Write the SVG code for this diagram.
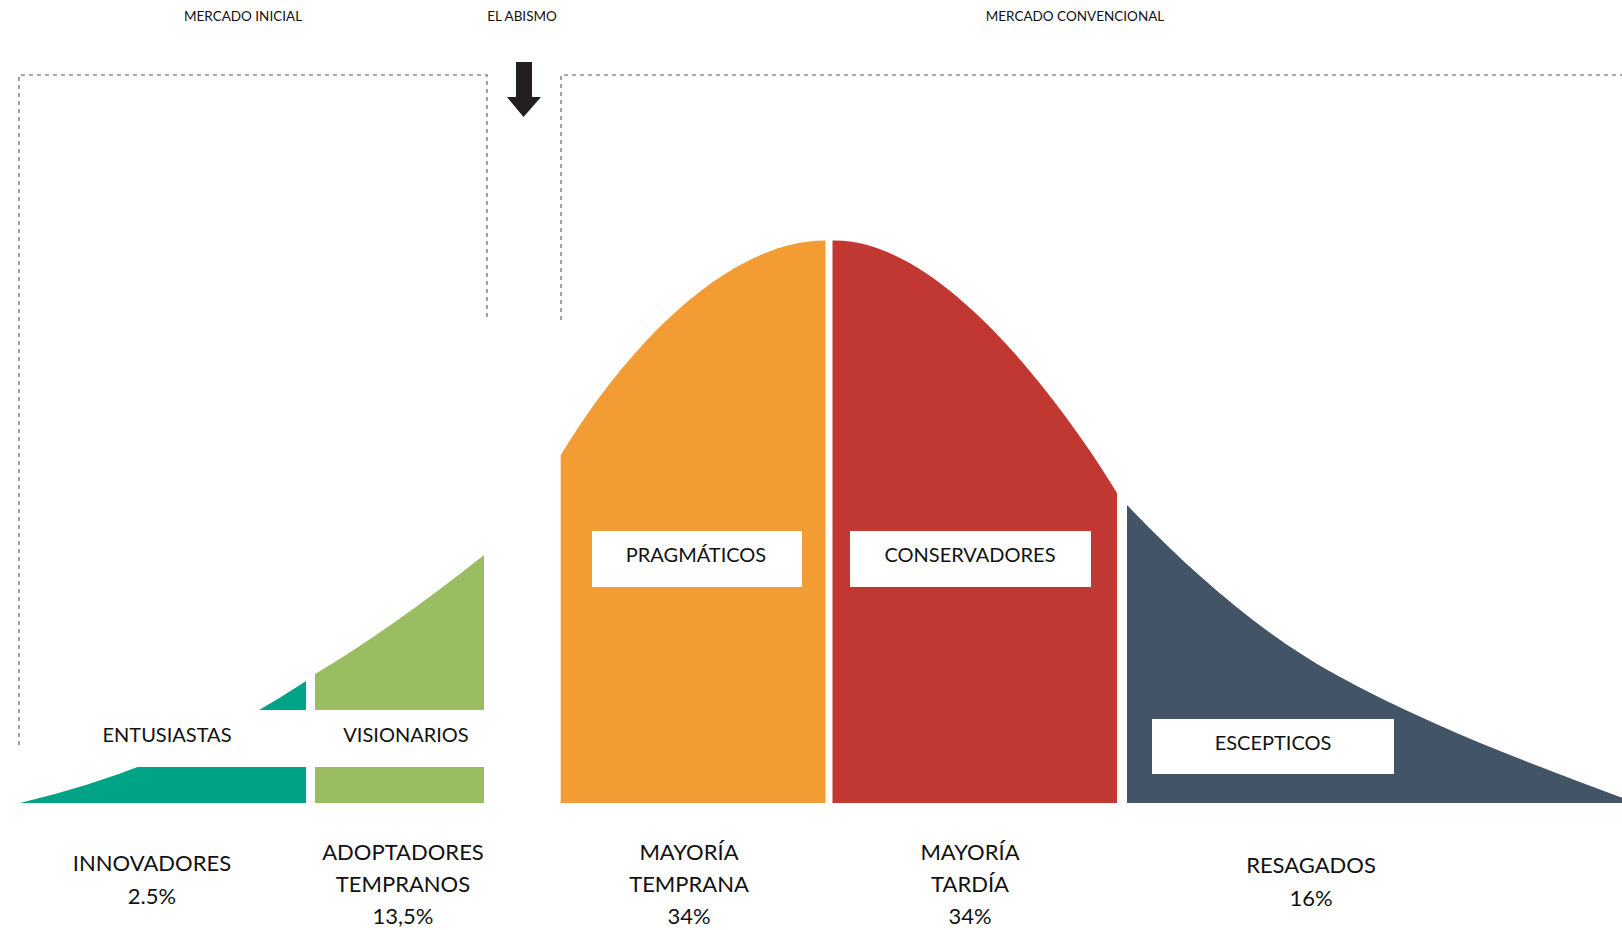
<svg xmlns="http://www.w3.org/2000/svg" width="1622" height="930" viewBox="0 0 1622 930">
<style>
text{font-family:Lato,"Liberation Sans",sans-serif;fill:#111;text-anchor:middle}
.top{font-size:13.5px}
.mid{font-size:20px}
.bot{font-size:22px}
.dash{fill:none;stroke:#8a8a8a;stroke-width:1.6;stroke-dasharray:4 4}
.box{fill:#fff}
</style>
<rect width="1622" height="930" fill="#fff"/>
<g id="connectors">
<path class="dash" d="M19,745 L19,75 L487,75 L487,320"/>
<path class="dash" d="M561,320 L561,75 L1622,75"/>
<path d="M516,62 L532,62 L532,97 L541,97 L523.5,117 L507,97 L516,97 Z" fill="#231f20"/>
</g>
<g id="innovadores">
<path d="M20,803 Q180,765 306,681 L306,803 Z" fill="#00a385"/>
</g>
<g id="adoptadores">
<path d="M315,803 L315,674 Q391,629 484,555 L484,803 Z" fill="#9bbd62"/>
</g>
<g id="mayoria-temprana">
<path d="M560.7,803 L560.7,455 C640,325 740,240 825.5,240.5 L825.5,803 Z" fill="#f39c34"/>
</g>
<g id="mayoria-tardia">
<path d="M832.5,803 L832.5,240.5 C940,238 1060,400 1117,493 L1117,803 Z" fill="#c13832"/>
</g>
<g id="resagados">
<path d="M1127,803 L1127,505 C1195.7,577 1264.6,635.5 1333.3,673.3 C1428.9,725.9 1524.4,761.2 1620,797 L1622,797.5 L1622,803 Z" fill="#435466"/>
</g>
<g id="labels-top">
<text class="top" x="243" y="21">MERCADO INICIAL</text>
<text class="top" x="522" y="21">EL ABISMO</text>
<text class="top" x="1075" y="21">MERCADO CONVENCIONAL</text>
</g>
<g id="entusiastas">
<rect class="box" x="30" y="710" width="276" height="57"/>
<text class="mid" x="167" y="742">ENTUSIASTAS</text>
</g>
<g id="visionarios">
<rect class="box" x="306" y="710" width="184" height="57"/>
<text class="mid" x="406" y="742">VISIONARIOS</text>
</g>
<g id="pragmaticos">
<rect class="box" x="592" y="531" width="210" height="56"/>
<text class="mid" x="696" y="562">PRAGMÁTICOS</text>
</g>
<g id="conservadores">
<rect class="box" x="850" y="531" width="241" height="56"/>
<text class="mid" x="970" y="562">CONSERVADORES</text>
</g>
<g id="escepticos">
<rect class="box" x="1152" y="719" width="242" height="55"/>
<text class="mid" x="1273" y="750">ESCEPTICOS</text>
</g>
<g id="labels-bottom">
<text class="bot" x="152" y="871">INNOVADORES</text>
<text class="bot" x="152" y="904">2.5%</text>
<text class="bot" x="403" y="860">ADOPTADORES</text>
<text class="bot" x="403" y="892">TEMPRANOS</text>
<text class="bot" x="403" y="924">13,5%</text>
<text class="bot" x="689" y="860">MAYORÍA</text>
<text class="bot" x="689" y="892">TEMPRANA</text>
<text class="bot" x="689" y="924">34%</text>
<text class="bot" x="970" y="860">MAYORÍA</text>
<text class="bot" x="970" y="892">TARDÍA</text>
<text class="bot" x="970" y="924">34%</text>
<text class="bot" x="1311" y="873">RESAGADOS</text>
<text class="bot" x="1311" y="906">16%</text>
</g>
</svg>
